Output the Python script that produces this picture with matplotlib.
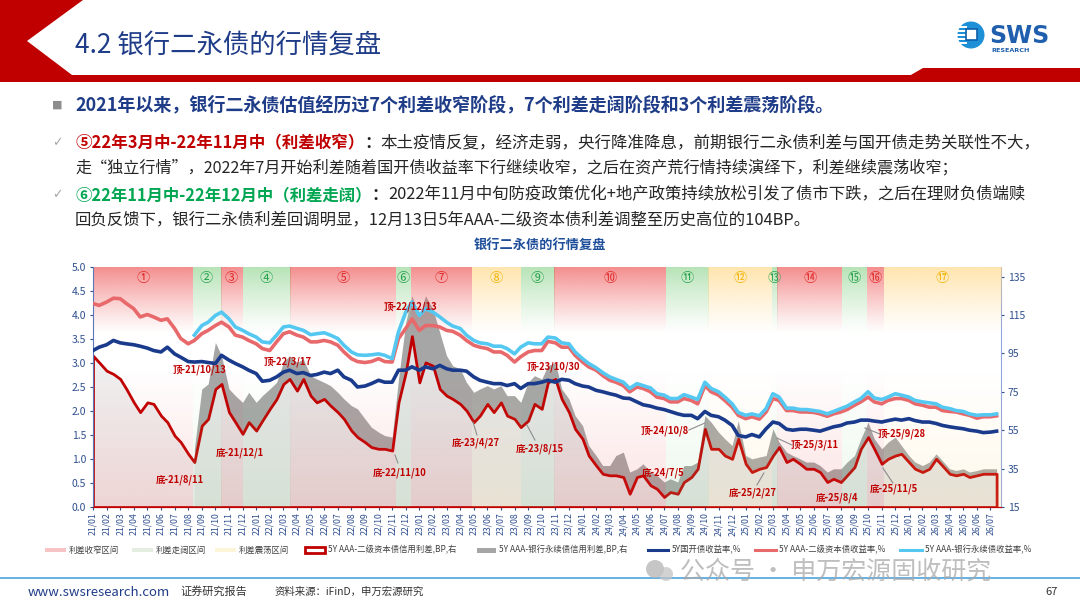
import numpy as np
import pandas as pd
import matplotlib
matplotlib.use("Agg")
import matplotlib.pyplot as plt
import matplotlib.colors as mcolors
from matplotlib.patches import Polygon, Rectangle, Circle
from matplotlib.lines import Line2D

plt.rcParams['font.family'] = ['Noto Sans CJK SC', 'DejaVu Sans']
plt.rcParams['axes.unicode_minus'] = False

W, H = 1080, 608
RED = "#c00000"
NAVY = "#1f3c88"
TICK_C = "#2f4f8f"

# ---- data (semi-monthly: 1st and 15th of each month) ----
DATES = pd.date_range("2021-01-01", "2026-07-16", freq="SMS")
MONTHS = pd.date_range("2021-01-01", "2026-07-01", freq="MS")
MONTH_LABELS = [d.strftime("%y/%m") for d in MONTHS]

# 5Y 国开债收益率, %
CDB_5Y = [
    3.26, 3.33, 3.38, 3.47, 3.42, 3.40, 3.38, 3.35, 3.31, 3.26, 3.23, 3.33, 3.19, 3.12, 3.03, 3.02,
    3.03, 3.01, 2.99, 3.16, 3.06, 2.99, 2.92, 2.85, 2.78, 2.62, 2.64, 2.71, 2.81, 2.85, 2.78, 2.80,
    2.74, 2.76, 2.81, 2.78, 2.85, 2.71, 2.64, 2.50, 2.52, 2.57, 2.64, 2.60, 2.60, 2.85, 2.85, 2.92,
    2.85, 2.92, 2.88, 2.95, 2.88, 2.85, 2.85, 2.83, 2.71, 2.64, 2.60, 2.57, 2.57, 2.53, 2.57, 2.47,
    2.57, 2.57,
    2.60, 2.64, 2.60, 2.66, 2.64, 2.57, 2.52, 2.50, 2.43, 2.40, 2.36, 2.33, 2.27, 2.26, 2.19, 2.13,
    2.10, 2.06, 2.03, 1.99, 1.94, 1.91, 1.91, 1.84, 1.99, 1.91, 1.88, 1.81, 1.70, 1.49, 1.46, 1.51,
    1.46, 1.63, 1.77, 1.74, 1.62, 1.60, 1.62, 1.62, 1.60, 1.58, 1.63, 1.67, 1.70, 1.75, 1.77, 1.81,
    1.81, 1.79, 1.77, 1.80, 1.83, 1.81, 1.84, 1.80, 1.77, 1.77, 1.74, 1.70, 1.67, 1.65, 1.63, 1.60,
    1.58, 1.55, 1.56, 1.58,
]

# 5Y AAA-二级资本债收益率, %
TIER2_YIELD = [
    4.24, 4.20, 4.27, 4.35, 4.34, 4.24, 4.13, 3.96, 4.01, 3.96, 3.89, 3.92, 3.72, 3.51, 3.40, 3.47,
    3.61, 3.68, 3.78, 3.85, 3.75, 3.58, 3.54, 3.47, 3.40, 3.30, 3.26, 3.44, 3.61, 3.65, 3.58, 3.54,
    3.44, 3.44, 3.47, 3.44, 3.37, 3.23, 3.09, 3.03, 3.01, 3.03, 3.09, 3.03, 3.02, 3.51, 3.72, 3.92,
    3.68, 3.78, 3.78, 3.75, 3.68, 3.66, 3.58, 3.47, 3.37, 3.33, 3.30, 3.23, 3.23, 3.16, 3.02, 3.13,
    3.23, 3.26,
    3.26, 3.45, 3.42, 3.33, 3.33, 3.16, 3.02, 2.92, 2.85, 2.74, 2.64, 2.60, 2.53, 2.40, 2.50, 2.47,
    2.40, 2.29, 2.26, 2.19, 2.19, 2.26, 2.22, 2.15, 2.53, 2.40, 2.33, 2.22, 2.08, 1.91, 1.84, 1.88,
    1.83, 1.98, 2.26, 2.22, 2.01, 2.01, 1.98, 1.98, 1.97, 1.94, 1.89, 1.94, 1.98, 2.03, 2.12, 2.19,
    2.29, 2.19, 2.15, 2.22, 2.26, 2.26, 2.22, 2.15, 2.12, 2.08, 2.08, 2.01, 1.99, 1.98, 1.94, 1.91,
    1.85, 1.88, 1.88, 1.90,
]

# 5Y AAA-银行永续债收益率, % (series starts Aug 2021)
PERP_YIELD = [np.nan] * 15 + [
    3.58, 3.78, 3.85, 3.99, 4.06, 3.92, 3.75, 3.68, 3.61, 3.54, 3.44, 3.42, 3.58, 3.75, 3.77, 3.72,
    3.68, 3.59, 3.61, 3.63, 3.58, 3.51, 3.37, 3.23, 3.17, 3.16, 3.17, 3.19, 3.16, 3.09, 3.65, 4.06,
    4.27, 3.99, 4.13, 4.06, 3.96, 3.85, 3.77, 3.72, 3.58, 3.47, 3.42, 3.40, 3.35, 3.35, 3.30, 3.19,
    3.33, 3.42, 3.40,
    3.40, 3.54, 3.52, 3.42, 3.40, 3.23, 3.09, 2.99, 2.90, 2.80, 2.71, 2.66, 2.60, 2.47, 2.57, 2.53,
    2.48, 2.36, 2.33, 2.26, 2.26, 2.34, 2.29, 2.24, 2.60, 2.47, 2.40, 2.29, 2.15, 1.97, 1.91, 1.94,
    1.90, 2.05, 2.36, 2.29, 2.06, 2.06, 2.03, 2.03, 2.01, 1.99, 1.94, 1.99, 2.05, 2.10, 2.19, 2.26,
    2.40, 2.27, 2.24, 2.29, 2.36, 2.33, 2.29, 2.22, 2.19, 2.17, 2.15, 2.08, 2.05, 2.01, 1.99, 1.94,
    1.91, 1.92, 1.92, 1.94,
]

# 5Y AAA-二级资本债信用利差, BP (right axis)
TIER2_SPREAD = [
    93.8, 90.3, 86.0, 84.3, 81.7, 76.5, 69.5, 64.4, 69.5, 68.7, 62.6, 59.2, 52.2, 48.8, 42.7, 38.4,
    57.4, 60.9, 76.5, 79.1, 64.4, 59.2, 53.1, 59.2, 54.8, 60.0, 66.1, 71.3, 79.1, 81.7, 75.6, 81.7,
    73.0, 69.5, 71.3, 67.8, 64.4, 60.9, 54.8, 51.4, 48.8, 46.2, 45.3, 45.3, 44.4, 69.5, 85.1, 104.0,
    79.9, 90.3, 88.6, 76.5, 73.0, 71.3, 68.7, 65.2, 59.2, 62.6, 68.7, 64.4, 69.5, 62.6, 60.9, 56.6,
    60.0, 68.7,
    66.1, 79.9, 81.7, 71.3, 64.4, 55.7, 50.5, 41.8, 36.6, 32.3, 31.5, 31.5, 30.6, 21.9, 30.6, 31.5,
    26.3, 24.5, 20.2, 22.8, 21.9, 28.0, 30.6, 34.9, 55.7, 45.3, 45.3, 41.8, 40.1, 50.5, 37.5, 33.2,
    34.9, 35.8, 41.8, 46.2, 38.4, 40.1, 37.5, 34.9, 34.9, 33.2, 28.0, 29.7, 28.0, 31.5, 35.8, 45.3,
    51.4, 45.3, 37.5, 40.1, 41.8, 42.7, 38.4, 34.9, 33.2, 34.9, 40.1, 36.6, 32.3, 31.5, 32.3, 30.6,
    31.5, 32.3, 32.3, 32.3,
]

# 5Y AAA-银行永续债信用利差, BP (right axis)
PERP_SPREAD = [np.nan] * 15 + [
    45.3, 76.5, 79.1, 100.7, 93.8, 76.5, 73.0, 69.5, 74.7, 69.5, 73.0, 76.5, 79.9, 90.3, 93.8, 90.3,
    92.1, 83.4, 81.7, 79.9, 78.2, 74.7, 71.3, 67.8, 66.1, 60.9, 56.6, 54.0, 52.2, 51.4, 81.7, 111.1,
    125.0, 114.6, 125.0, 118.0, 105.9, 93.8, 88.6, 86.9, 79.9, 74.7, 76.5, 78.2, 76.5, 78.2, 73.0, 73.0,
    69.5, 79.9, 83.4,
    81.7, 88.6, 90.3, 76.5, 71.3, 62.6, 57.4, 47.0, 41.8, 36.6, 36.6, 41.8, 43.6, 33.2, 34.9, 37.5,
    33.2, 31.5, 28.0, 29.7, 28.0, 36.6, 36.6, 38.4, 62.6, 59.2, 54.0, 50.5, 47.0, 60.0, 41.8, 40.1,
    41.0, 41.8, 55.7, 48.8, 43.6, 41.8, 40.1, 38.4, 38.4, 36.6, 33.2, 34.9, 34.9, 38.4, 41.8, 50.5,
    59.2, 50.5, 45.3, 48.8, 51.4, 47.0, 41.8, 38.4, 36.6, 38.4, 42.7, 39.2, 34.9, 34.0, 34.9, 33.2,
    34.0, 34.9, 34.9, 34.9,
]

# phases: boundaries and type
PHASE_EDGES = ["2021-01-01", "2021-08-11", "2021-10-13", "2021-12-01", "2022-03-17", "2022-11-10",
               "2022-12-13", "2023-04-27", "2023-08-15", "2023-10-30", "2024-07-05", "2024-10-08",
               "2025-02-27", "2025-03-11", "2025-08-04", "2025-09-28", "2025-11-05", "2026-07-25"]
PHASE_KIND = ["收窄", "走阔", "收窄", "走阔", "收窄", "走阔", "收窄", "震荡", "走阔",
              "收窄", "走阔", "震荡", "走阔", "收窄", "走阔", "收窄", "震荡"]
PHASE_NUM = list("①②③④⑤⑥⑦⑧⑨⑩⑪⑫⑬⑭⑮⑯⑰")

BAND_COLOR = {"收窄": "#ee5252", "走阔": "#92d592", "震荡": "#ffd784"}
NUM_COLOR = {"收窄": "#e02828", "走阔": "#22a04a", "震荡": "#f2b300"}

ANNOTS = ["顶-21/10/13", "底-21/8/11", "底-21/12/1", "顶-22/3/17", "顶-22/12/13", "底-22/11/10",
          "底-23/4/27", "底-23/8/15", "顶-23/10/30", "顶-24/10/8", "底-24/7/5", "底-25/2/27",
          "顶-25/3/11", "底-25/8/4", "顶-25/9/28", "底-25/11/5"]

assert len(DATES) == len(CDB_5Y) == len(TIER2_YIELD) == len(PERP_YIELD) == len(TIER2_SPREAD) == len(PERP_SPREAD)


def month_idx(d):
    d = pd.Timestamp(d)
    return (d.year - 2021) * 12 + d.month - 1 + (d.day - 1) / d.days_in_month


def px2data(px, py):
    return (px - 93) / 13.6, (507 - py) / 48


def band_rgba(color, n=240):
    y = np.linspace(0, 5, n)
    a = 0.66 * np.clip((y - 3.6) / 1.4, 0, 1) ** 1.15 + 0.17 * np.clip((2.9 - y) / 2.9, 0, 1)
    rgba = np.zeros((n, 1, 4))
    rgba[..., :3] = mcolors.to_rgb(color)
    rgba[..., 3] = a[:, None]
    return rgba


x = np.array([month_idx(d) for d in DATES])
x_end = month_idx(PHASE_EDGES[-1])

fig = plt.figure(figsize=(W / 100, H / 100), dpi=100)
bg = fig.add_axes([0, 0, 1, 1])
bg.set_xlim(0, W)
bg.set_ylim(H, 0)
bg.axis("off")

# ---- header ----
bg.add_patch(Polygon([(0, 0), (83, 0), (27, 41), (72, 75), (0, 75)], color=RED, lw=0))
bg.add_patch(Rectangle((0, 75), W, 7, color=RED, lw=0))
bg.add_patch(Polygon([(910, 75.5), (923, 68), (W, 68), (W, 75.5)], color=RED, lw=0))
bg.text(75, 45, "4.2 银行二永债的行情复盘", fontsize=19, color=NAVY, va="center")

# logo
bg.add_patch(Circle((971, 35), 13.5, color="#1e90d8", lw=0))
for yy in (27, 31, 35, 39, 43):
    bg.add_patch(Rectangle((957, yy - 1), 10, 1.8, color="white", lw=0))
bg.add_patch(Rectangle((966, 29), 11, 11, facecolor="white", edgecolor="#0f5ea8", lw=1.2))
bg.text(989, 36, "SWS", fontsize=17, fontweight="bold", color="#1f5fae", va="center",
        family="DejaVu Sans")
bg.text(991, 50.5, "RESEARCH", fontsize=4.6, fontweight="bold", color="#1f5fae", va="center",
        family="DejaVu Sans")

# ---- bullet text ----
renderer = fig.canvas.get_renderer()


def rich(x0, y0, parts, size):
    for s, color, weight in parts:
        t = bg.text(x0, y0, s, fontsize=size, color=color, fontweight=weight, va="center", ha="left")
        x0 += t.get_window_extent(renderer).width


BODY = "#262626"
bg.text(57, 105, "■", fontsize=8, color="#8c8c8c", va="center", ha="center", family="DejaVu Sans")
rich(75, 105, [("2021年以来，银行二永债估值经历过7个利差收窄阶段，7个利差走阔阶段和3个利差震荡阶段。", NAVY, "bold")], 13)

bg.text(57, 143, "✓", fontsize=9, color="#a6a6a6", va="center", ha="center", family="DejaVu Sans")
rich(75, 143, [("⑤22年3月中-22年11月中（利差收窄）", RED, "bold"), ("：", "#222222", "bold"),
               ("本土疫情反复，经济走弱，央行降准降息，前期银行二永债利差与国开债走势关联性不大，", BODY, "normal")], 11.9)
rich(75, 168, [("走“独立行情”，2022年7月开始利差随着国开债收益率下行继续收窄，之后在资产荒行情持续演绎下，利差继续震荡收窄；", BODY, "normal")], 11.6)

bg.text(57, 195, "✓", fontsize=9, color="#a6a6a6", va="center", ha="center", family="DejaVu Sans")
rich(75, 195, [("⑥22年11月中-22年12月中（利差走阔）", "#00a651", "bold"), ("：", "#222222", "bold"),
               ("2022年11月中旬防疫政策优化+地产政策持续放松引发了债市下跌，之后在理财负债端赎", BODY, "normal")], 11.8)
rich(75, 220, [("回负反馈下，银行二永债利差回调明显，12月13日5年AAA-二级资本债利差调整至历史高位的104BP。", BODY, "normal")], 11.8)

bg.text(540, 245, "银行二永债的行情复盘", fontsize=9.5, fontweight="bold", color="#1f4e9a",
        va="center", ha="center")

# ---- chart ----
ax = fig.add_axes([93 / W, 1 - 507 / H, 908 / W, 240 / H])
ax2 = ax.twinx()
ax2.set_zorder(1)
ax.set_zorder(2)
ax.patch.set_visible(False)

# spreads on right axis
ax2.fill_between(x, 15, PERP_SPREAD, color="#a6a6a6", lw=0, zorder=1)
ax2.fill_between(x, 15, TIER2_SPREAD, facecolor=(0.93, 0.93, 0.93, 0.88), edgecolor=RED, lw=2.0, zorder=2)
ax2.set_ylim(15, 140)
ax2.set_yticks(np.arange(15, 136, 20))
ax2.tick_params(axis="y", labelsize=7.5, colors=TICK_C, length=2, pad=3)

# phase bands
for i, kind in enumerate(PHASE_KIND):
    x0, x1 = month_idx(PHASE_EDGES[i]), month_idx(PHASE_EDGES[i + 1])
    ax.imshow(band_rgba(BAND_COLOR[kind]), extent=[x0, x1, 0, 5], origin="lower", aspect="auto",
              interpolation="bilinear", zorder=1)
    ax.text((x0 + x1) / 2, 4.76, PHASE_NUM[i], fontsize=9.5, color=NUM_COLOR[kind], ha="center",
            va="center", zorder=6)

# yields on left axis
ax.plot(x, TIER2_YIELD, color="#e8696b", lw=2.6, zorder=3)
ax.plot(x, PERP_YIELD, color="#55c8f2", lw=2.6, zorder=4)
ax.plot(x, CDB_5Y, color="#1a3a8c", lw=2.6, zorder=5)

# annotations (label, text position in px, optional leader in px)
annot_pos = [(200, 370), (180, 480), (240, 453), (288, 362), (410, 307), (400, 473),
             (476, 443), (540, 449), (553, 367), (665, 431), (663, 473), (753, 493),
             (815, 445), (837, 498), (902, 434), (894, 489)]
leaders = {5: ((395, 455), (398, 463)), 6: ((473, 422), (477, 435)), 7: ((527, 425), (535, 440)),
           9: ((689, 430), (705, 423)), 11: ((757, 485), (764, 473)), 12: ((777, 438), (792, 445)),
           14: ((865, 428), (880, 434)), 15: ((883, 468), (893, 483))}
for i, (label, (px, py)) in enumerate(zip(ANNOTS, annot_pos)):
    tx, ty = px2data(px, py)
    ax.text(tx, ty, label, fontsize=6.8, fontweight="bold", color=RED, ha="center", va="center", zorder=7)
    if i in leaders:
        (ax0, ay0), (ax1, ay1) = leaders[i]
        lx0, ly0 = px2data(ax0, ay0)
        lx1, ly1 = px2data(ax1, ay1)
        ax.plot([lx0, lx1], [ly0, ly1], color="#8c8c8c", lw=0.8, zorder=6)

ax.set_xlim(0, x_end)
ax.set_ylim(0, 5)
ax.set_yticks(np.arange(0, 5.01, 0.5))
ax.set_yticklabels([f"{v:.1f}" for v in np.arange(0, 5.01, 0.5)])
ax.set_xticks([month_idx(d) for d in MONTHS])
ax.set_xticklabels(MONTH_LABELS, rotation=90, fontsize=6.3)
ax.tick_params(axis="x", colors=TICK_C, length=2, pad=2)
ax.tick_params(axis="y", labelsize=7.5, colors=TICK_C, length=2, pad=3)

for a in (ax, ax2):
    a.spines["top"].set_visible(False)
ax.spines["left"].set_color("#5a78b8")
ax2.spines["left"].set_visible(False)
ax.spines["right"].set_visible(False)
ax2.spines["right"].set_color("#8fa5dc")
ax.spines["bottom"].set_color(RED)
ax2.spines["bottom"].set_color(RED)

# ---- legend ----
LY = 550
LEG_TXT = "#404040"
LFS = 6.0
bg.add_patch(Rectangle((45, LY - 2), 21, 4, color="#f6c4c4", lw=0))
bg.text(69, LY, "利差收窄区间", fontsize=LFS, color=LEG_TXT, va="center")
bg.add_patch(Rectangle((132, LY - 2), 21, 4, color="#e4ede0", lw=0))
bg.text(156, LY, "利差走阔区间", fontsize=LFS, color=LEG_TXT, va="center")
bg.add_patch(Rectangle((215, LY - 2), 21, 4, color="#fdf5d8", lw=0))
bg.text(239, LY, "利差震荡区间", fontsize=LFS, color=LEG_TXT, va="center")
bg.add_patch(Rectangle((305, LY - 3), 20, 6, facecolor="white", edgecolor=RED, lw=2))
bg.text(328, LY, "5Y AAA-二级资本债信用利差,BP,右", fontsize=LFS, color=LEG_TXT, va="center")
bg.add_patch(Rectangle((477, LY - 2.5), 19, 5, color="#a6a6a6", lw=0))
bg.text(499, LY, "5Y AAA-银行永续债信用利差,BP,右", fontsize=LFS, color=LEG_TXT, va="center")
bg.add_line(Line2D([648, 668], [LY, LY], color="#1a3a8c", lw=2.2))
bg.text(672, LY, "5Y国开债收益率,%", fontsize=LFS, color=LEG_TXT, va="center")
bg.add_line(Line2D([755, 776], [LY, LY], color="#e8696b", lw=2.2))
bg.text(779, LY, "5Y AAA-二级资本债收益率,%", fontsize=LFS, color=LEG_TXT, va="center")
bg.add_line(Line2D([900, 922], [LY, LY], color="#55c8f2", lw=2.2))
bg.text(925, LY, "5Y AAA-银行永续债收益率,%", fontsize=LFS, color=LEG_TXT, va="center")

# ---- footer ----
bg.add_line(Line2D([0, W], [578, 578], color="#4aa3df", lw=1.2))
bg.add_patch(Circle((655, 569), 9, color="#b4b4b4", alpha=0.75, lw=0, zorder=8))
bg.add_patch(Circle((666, 574), 7, color="#c4c4c4", alpha=0.75, lw=0, zorder=8))
bg.text(680, 572, "公众号 · 申万宏源固收研究", fontsize=18, color="#a8a8a8", alpha=0.75,
        va="center", zorder=8)
bg.text(28, 592, "www.swsresearch.com", fontsize=9.5, color=NAVY, va="center")
bg.text(180, 591, "证券研究报告", fontsize=8, color="#333333", va="center")
bg.text(275, 592, "资料来源：iFinD，申万宏源研究", fontsize=7.5, color="#333333", va="center")
bg.text(1045, 592, "67", fontsize=8, color="#333333", va="center")

fig.savefig("out.png", dpi=100)
